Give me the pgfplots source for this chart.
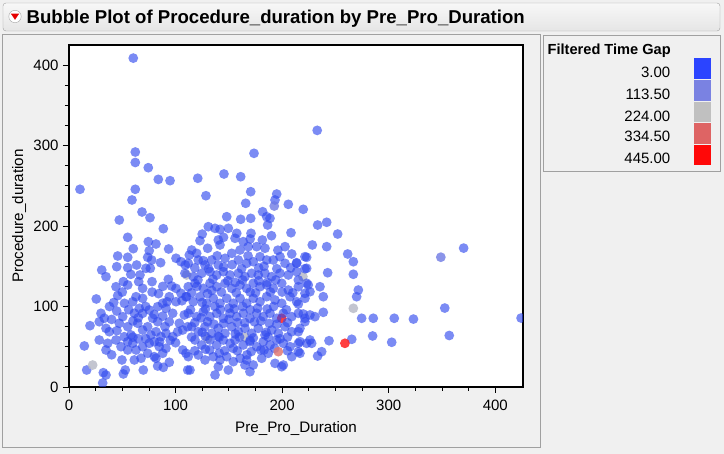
\documentclass[border=0pt]{standalone}
\usepackage{fontspec}
\setmainfont{Liberation Sans}
\usepackage{pgfplots}
\usepackage{pgfplotstable}
\pgfplotsset{compat=1.18}

\definecolor{panelbg}{RGB}{240,240,240}
\definecolor{framegray}{RGB}{160,160,160}
\definecolor{ptblue}{RGB}{50,75,238}
\definecolor{ptlav}{RGB}{110,122,228}
\definecolor{ptgray}{RGB}{185,188,200}
\definecolor{ptpink}{RGB}{225,120,115}
\definecolor{ptred}{RGB}{255,30,30}
\definecolor{gapA}{RGB}{43,68,255}
\definecolor{gapB}{RGB}{122,130,226}
\definecolor{gapC}{RGB}{192,192,192}
\definecolor{gapD}{RGB}{222,100,100}
\definecolor{gapE}{RGB}{255,8,8}

% Pre_Pro_Duration vs Procedure_duration, blue end of the Filtered Time Gap scale
\pgfplotstableread{
x y
60.3 408.7
232.9 318.9
10.3 245.7
62.2 292.0
62.2 279.0
74.4 272.5
83.8 258.0
94.8 256.4
62.2 245.7
59.1 232.4
68.5 217.5
76.0 210.4
47.2 207.5
88.5 196.7
55.1 186.0
74.4 180.6
81.6 177.7
60.3 171.9
93.5 171.5
75.3 169.4
73.8 161.2
45.7 162.8
55.1 161.2
77.6 157.8
86.0 154.5
100.4 160.0
105.1 155.7
109.1 151.6
112.9 164.0
44.8 149.5
55.1 148.3
63.5 151.6
72.2 147.5
76.3 147.5
30.7 145.4
34.7 137.1
66.6 139.2
65.4 130.9
51.0 130.9
55.1 126.8
44.1 124.6
45.7 113.5
69.1 122.6
77.9 130.9
93.2 133.8
96.3 125.5
100.4 122.6
105.1 116.4
94.1 112.2
92.0 106.0
100.4 106.0
106.0 107.2
109.8 112.2
25.6 109.4
62.9 112.2
59.8 106.0
69.1 110.2
61.3 91.6
66.0 97.8
44.8 94.4
30.0 91.6
33.1 85.4
28.4 81.1
34.7 72.9
19.7 76.2
37.8 68.7
50.4 87.4
47.2 79.2
55.1 74.9
58.2 64.6
51.9 62.5
59.8 54.3
69.1 91.6
75.3 95.7
83.2 99.8
87.9 104.0
91.0 97.8
97.3 91.6
108.2 89.5
103.5 79.2
94.1 81.1
83.2 81.1
78.5 85.4
64.5 79.2
69.1 70.8
73.8 74.9
76.9 64.6
81.6 68.7
86.3 62.5
91.0 66.7
97.3 62.5
102.0 68.7
106.7 70.8
111.4 74.9
55.1 56.3
44.1 58.4
48.8 50.1
55.1 46.0
62.9 46.0
69.1 50.1
75.3 54.3
80.0 56.3
84.7 50.1
91.0 48.1
87.9 41.9
80.0 37.7
73.8 41.9
67.6 35.7
61.3 33.6
28.4 58.4
36.3 54.3
34.7 46.0
14.4 51.0
49.7 33.6
52.8 21.1
51.0 16.2
69.7 21.1
81.6 35.7
83.2 26.1
88.5 24.4
94.1 30.7
106.7 46.0
109.8 41.9
111.4 21.1
16.6 21.1
32.2 17.8
34.7 14.9
31.6 5.0
40.0 84.0
56.0 96.0
65.0 86.0
88.0 88.0
40.0 40.0
60.0 62.0
72.0 60.0
38.0 100.0
52.0 104.0
84.0 116.0
58.0 140.0
45.0 70.0
60.0 82.0
72.0 100.0
80.0 90.0
90.0 75.0
42.0 105.0
65.0 60.0
85.0 56.0
95.0 58.0
100.0 55.0
50.0 118.0
78.0 118.0
88.0 125.0
173.6 290.4
120.8 259.4
145.4 264.7
161.1 261.3
128.5 237.7
170.5 242.7
165.8 228.3
194.9 239.8
193.3 232.4
205.8 227.0
219.8 220.8
181.7 217.8
185.5 211.6
188.6 209.6
186.4 201.3
208.3 191.7
170.8 191.0
148.0 211.6
149.5 197.2
161.1 208.4
170.5 209.6
130.7 199.2
137.0 197.2
141.7 195.9
122.9 181.8
115.1 170.2
119.8 166.1
130.1 172.4
140.1 182.7
141.7 176.5
155.8 184.8
157.4 191.0
163.5 180.6
168.2 174.4
160.5 170.2
176.1 174.4
181.4 182.7
183.9 172.4
202.7 174.4
209.0 165.3
221.4 161.9
223.0 147.5
213.6 153.7
111.9 153.7
121.3 157.8
127.6 151.6
133.9 157.8
140.1 151.6
146.4 159.9
152.7 166.1
158.9 157.8
166.7 153.7
172.9 155.7
179.2 161.9
185.5 157.8
191.7 157.8
198.0 161.9
202.7 153.7
108.8 141.3
116.6 137.1
124.5 141.3
132.3 143.3
138.6 139.2
144.8 143.3
151.1 139.2
158.9 141.3
165.1 137.1
171.4 141.3
177.6 139.2
183.9 141.3
190.2 137.1
198.0 141.3
205.8 139.2
213.6 143.3
111.9 124.6
118.2 128.9
126.0 122.6
132.3 128.9
138.6 124.6
146.4 128.9
152.7 122.6
160.5 126.8
166.7 122.6
172.9 128.9
179.2 124.6
185.5 126.8
191.7 122.6
199.6 128.9
205.8 120.5
215.2 124.6
223.0 128.9
110.4 112.2
116.6 106.0
122.9 112.2
129.2 104.0
135.4 110.2
141.7 104.0
148.0 110.2
154.2 104.0
160.5 110.2
166.7 104.0
172.9 110.2
179.2 106.0
185.5 112.2
193.3 108.1
199.6 104.0
207.4 112.2
213.6 106.0
221.4 110.2
111.9 91.6
119.8 87.4
126.0 93.6
132.3 87.4
138.6 91.6
144.8 85.4
151.1 91.6
157.4 87.4
163.5 91.6
169.8 85.4
176.1 91.6
182.3 87.4
188.6 91.6
194.9 85.4
201.1 91.6
209.0 87.4
215.2 91.6
221.4 85.4
115.1 74.9
121.3 68.7
127.6 74.9
133.9 66.7
140.1 72.9
146.4 66.7
152.7 74.9
158.9 68.7
165.1 72.9
171.4 66.7
177.6 72.9
183.9 64.6
190.2 70.8
196.4 66.7
202.7 74.9
209.0 68.7
216.7 72.9
118.2 58.4
124.5 52.2
132.3 58.4
138.6 52.2
144.8 58.4
151.1 54.3
155.8 58.4
163.5 52.2
169.8 56.3
176.1 50.1
182.3 56.3
188.6 52.2
194.9 58.4
201.1 54.3
207.4 50.1
215.2 54.3
223.0 54.3
111.9 37.7
121.3 39.8
127.6 33.6
135.4 37.7
141.7 33.6
148.0 37.7
154.2 31.5
160.5 35.7
166.7 33.6
172.9 27.3
180.8 35.7
187.0 41.9
193.3 29.4
201.1 27.3
209.0 37.7
216.7 41.9
113.5 21.1
137.0 14.9
140.1 25.2
149.5 21.1
165.1 27.3
169.8 19.0
199.6 25.2
114.0 96.0
128.0 97.0
142.0 96.0
155.0 97.0
170.0 96.0
186.0 97.0
204.0 96.0
115.0 117.0
130.0 116.0
143.0 118.0
157.0 117.0
175.0 117.0
189.0 118.0
210.0 117.0
121.0 133.0
135.0 134.0
149.0 132.0
163.0 133.0
178.0 132.0
194.0 133.0
118.0 148.0
131.0 147.0
145.0 149.0
162.0 147.0
178.0 148.0
195.0 147.0
208.0 148.0
118.0 80.0
130.0 81.0
145.0 79.0
158.0 80.0
174.0 81.0
188.0 79.0
205.0 80.0
115.0 62.0
128.0 63.0
141.0 62.0
160.0 62.0
173.0 61.0
187.0 62.0
205.0 62.0
118.0 45.0
132.0 46.0
146.0 45.0
158.0 45.0
171.0 44.0
183.0 46.0
205.0 45.0
125.0 190.0
145.0 186.0
170.0 184.0
190.0 188.0
125.0 105.0
137.0 100.0
150.0 98.0
163.0 100.0
177.0 98.0
192.0 100.0
120.0 125.0
134.0 120.0
156.0 130.0
170.0 118.0
186.0 130.0
200.0 118.0
126.0 157.0
139.0 163.0
153.0 152.0
168.0 163.0
183.0 150.0
196.0 170.0
124.0 86.0
136.0 78.0
150.0 84.0
165.0 80.0
180.0 82.0
195.0 78.0
125.0 68.0
140.0 63.0
156.0 66.0
170.0 58.0
185.0 68.0
198.0 60.0
128.0 47.0
141.0 42.0
154.0 48.0
167.0 40.0
180.0 46.0
193.0 48.0
233.3 201.3
241.8 204.7
252.1 190.1
228.3 176.5
241.8 174.4
261.5 165.3
266.8 155.7
266.8 140.1
223.0 161.2
221.4 147.0
213.6 154.5
242.7 142.0
271.5 120.5
269.9 112.2
274.6 85.4
285.5 85.4
305.2 85.4
284.9 63.4
302.8 55.6
265.3 59.3
244.0 57.5
237.1 43.9
233.3 38.5
215.2 133.0
224.5 126.8
226.1 118.4
235.5 124.6
238.6 112.2
221.4 116.4
215.2 103.1
219.8 90.7
226.1 89.5
230.8 87.4
238.6 92.8
215.2 68.7
216.7 56.3
226.1 58.4
227.7 54.3
215.2 43.9
221.4 81.1
370.3 172.6
352.6 98.1
356.8 64.0
424.2 85.7
323.2 84.4
}\bluepts

\pgfplotstableread{
x y
348.9 161.3
192.6 224.9
}\lavpts

% grey points lying inside the dense cloud (drawn underneath it)
\pgfplotstableread{
x y
110.4 139.2
130.0 60.0
165.0 62.0
219.5 137.1
}\grayunder

% grey points standing on their own
\pgfplotstableread{
x y
22.2 27.3
266.8 97.8
}\graypts

\pgfplotstableread{
x y
196.4 43.9
}\pinkpts

\pgfplotstableread{
x y
258.9 54.3
}\redpts

\pgfplotstableread{
x y
199.6 85.4
}\redbehind

\pgfplotsset{
  bubble/.style={only marks, mark=*, mark size=4.9pt, draw=none,
    mark options={draw=none, draw opacity=0, fill=#1}},
}

\begin{document}
\begin{tikzpicture}[x=1pt,y=1pt]
% window background and page size
\fill[panelbg] (0,0) rectangle (724,-454);
\useasboundingbox (0,0) rectangle (724,-454);

% title bar
\draw[framegray, rounded corners=3pt, top color=white!97!black, bottom color=white!90!black]
  (3,-3) rectangle (720,-31);
\fill[white] (15,-16.5) circle (6.2);
\draw[gray!70] (15,-16.5) circle (6.2);
\fill[red!90!black] (10.8,-13.6) -- (19.2,-13.6) -- (15,-19.8) -- cycle;
\node[anchor=base west, inner sep=0pt, font=\fontsize{18.6}{18.6}\selectfont\bfseries]
  at (26.5,-23.5) {Bubble Plot of Procedure\_duration by Pre\_Pro\_Duration};

% report panels
\draw[framegray] (2,-34) rectangle (540,-447);
\draw[framegray] (543,-35) rectangle (720.5,-171);

% colour scale
\node[anchor=west, inner sep=0pt, font=\fontsize{14.6}{14.6}\selectfont\bfseries]
  at (547.5,-51) {Filtered Time Gap};
\foreach \yy/\lab in {72.7/3.00, 94.3/113.50, 116/224.00, 136.7/334.50, 158.3/445.00}{
  \node[anchor=east, inner sep=0pt, font=\fontsize{15}{15}\selectfont] at (670.5,-\yy) {\lab};
}
\fill[gapA] (694,-58.3) rectangle (711,-79.3);
\fill[gapB] (694,-80.3) rectangle (711,-100.6);
\fill[gapC] (694,-101.7) rectangle (711,-122.4);
\fill[gapD] (694,-123.3) rectangle (711,-144);
\fill[gapE] (694,-145) rectangle (711,-165.5);

\begin{axis}[
  at={(69pt,-387pt)}, anchor=south west,
  scale only axis, width=454pt, height=342pt,
  xmin=0, xmax=426, ymin=0, ymax=425,
  axis background/.style={fill=white},
  axis line style={black, line width=1.1pt},
  xtick={0,100,200,300,400}, ytick={0,100,200,300,400},
  minor tick num=3,
  tick align=outside, xtick pos=bottom, ytick pos=left,
  major tick length=6pt, minor tick length=4pt,
  every tick/.style={black, line width=0.8pt},
  /pgf/number format/assume math mode=true,
  tick label style={font=\fontsize{15}{15}\selectfont, black},
  xticklabel style={yshift=-3pt},
  yticklabel style={xshift=-1pt},
  xlabel={Pre\_Pro\_Duration}, ylabel={Procedure\_duration},
  label style={font=\fontsize{15.2}{15.2}\selectfont},
  xlabel style={at={(axis description cs:0.5,-0.12)}, anchor=center},
  ylabel style={at={(axis description cs:-0.110,0.5)}, anchor=center},
  clip marker paths=true,
]
\addplot[bubble=ptred, fill opacity=0.85] table {\redbehind};
\addplot[bubble=ptgray, fill opacity=0.85] table {\grayunder};
\addplot[bubble=ptblue, fill opacity=0.64] table {\bluepts};
\addplot[bubble=ptlav, fill opacity=0.80] table {\lavpts};
\addplot[bubble=ptgray, fill opacity=0.85] table {\graypts};
\addplot[bubble=ptpink, fill opacity=0.85] table {\pinkpts};
\addplot[bubble=ptred, fill opacity=0.85] table {\redpts};
\end{axis}
\end{tikzpicture}
\end{document}
